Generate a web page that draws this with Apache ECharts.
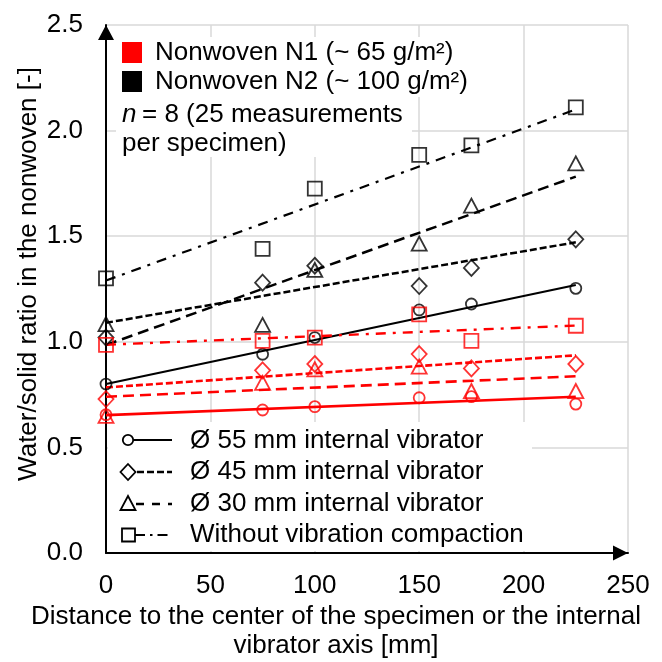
<!DOCTYPE html>
<html>
<head>
<meta charset="utf-8">
<script src="https://cdn.jsdelivr.net/npm/echarts@6/dist/echarts.min.js"></script>
<style>
html,body{margin:0;padding:0;background:#fff;}
#chart{width:662px;height:662px;}
</style>
</head>
<body>
<div id="chart"></div>
<script>
// ---- data ----
const distance = [0, 75, 100, 150, 175, 225];
const n1_55 = [0.655, 0.677, 0.693, 0.735, 0.740, 0.705];
const n1_45 = [0.729, 0.865, 0.895, 0.942, 0.874, 0.895];
const n1_30 = [0.649, 0.805, 0.870, 0.882, 0.767, 0.767];
const n1_wo = [0.985, 1.004, 1.020, 1.130, 1.004, 1.076];
const n2_55 = [0.800, 0.941, 1.020, 1.151, 1.179, 1.253];
const n2_45 = [1.020, 1.280, 1.360, 1.264, 1.350, 1.485];
const n2_30 = [1.084, 1.080, 1.340, 1.465, 1.645, 1.845];
const n2_wo = [1.300, 1.440, 1.725, 1.885, 1.930, 2.110];

// linear trend lines (values at start and end)
const trendX = [0, 225];
const t_n1_55 = [0.653, 0.740];
const t_n1_45 = [0.784, 0.936];
const t_n1_30 = [0.740, 0.837];
const t_n1_wo = [0.986, 1.077];
const t_n2_55 = [0.800, 1.269];
const t_n2_45 = [1.090, 1.471];
const t_n2_30 = [0.985, 1.782];
const t_n2_wo = [1.290, 2.100];

const xTicks = [0, 50, 100, 150, 200, 250];
const yTicks = [0.0, 0.5, 1.0, 1.5, 2.0, 2.5];

const legendTop = ['Nonwoven N1 (~ 65 g/m²)', 'Nonwoven N2 (~ 100 g/m²)'];
const noteLines = ['= 8 (25 measurements', 'per specimen)'];
const legendSeries = ['Ø 55 mm internal vibrator', 'Ø 45 mm internal vibrator', 'Ø 30 mm internal vibrator', 'Without vibration compaction'];
const xTitle = ['Distance to the center of the specimen or the internal', 'vibrator axis [mm]'];
const yTitle = 'Water/solid ratio in the nonwoven [-]';

const RED = '#ff0000', BLACK = '#000000';
const FONT = '"Liberation Sans", Arial, sans-serif';
const FS = 26;

const dashShort = [7, 3];
const dashLong = [11, 6];
const dashDot = [10, 7, 3, 7];

function pts(arr) { return distance.map((x, i) => [x, arr[i]]); }
function tpts(arr) { return trendX.map((x, i) => [x, arr[i]]); }

function scatter(arr, color, symbol, size) {
  return {
    type: 'scatter', data: pts(arr), symbol: symbol, symbolSize: size, z: 4,
    itemStyle: { color: 'rgba(0,0,0,0)', borderColor: color, borderWidth: 1.8 },
    emphasis: { disabled: true }, silent: true
  };
}
function trend(arr, color, dash, w) {
  return {
    type: 'line', data: tpts(arr), symbol: 'none', showSymbol: false, z: 3,
    lineStyle: { color: color, width: w, type: dash },
    emphasis: { disabled: true }, silent: true
  };
}

const series = [
  trend(t_n2_55, BLACK, 'solid', 2.2),
  trend(t_n2_45, BLACK, dashShort, 2.5),
  trend(t_n2_30, BLACK, dashLong, 2.5),
  trend(t_n2_wo, BLACK, dashDot, 2.2),
  trend(t_n1_55, RED, 'solid', 2.6),
  trend(t_n1_45, RED, dashShort, 2.6),
  trend(t_n1_30, RED, dashLong, 2.6),
  trend(t_n1_wo, RED, dashDot, 2.4),
  scatter(n2_55, BLACK, 'circle', 11),
  scatter(n2_45, BLACK, 'diamond', [15, 16]),
  scatter(n2_30, BLACK, 'triangle', [15, 14]),
  scatter(n2_wo, BLACK, 'rect', 14),
  scatter(n1_55, RED, 'circle', 11),
  scatter(n1_45, RED, 'diamond', [15, 16]),
  scatter(n1_30, RED, 'triangle', [15, 14]),
  scatter(n1_wo, RED, 'rect', 14)
];

const txt = (x, y, text, extra) => Object.assign({
  type: 'text', x: x, y: y, z: 10,
  style: Object.assign({ text: text, font: FS + 'px ' + FONT, fill: '#000', align: 'left', verticalAlign: 'middle' }, extra || {})
});

const graphic = [
  // white boxes behind the two text/legend blocks
  { type: 'rect', z: 1, shape: { x: 116, y: 37, width: 360, height: 60 }, style: { fill: '#fff' } },
  { type: 'rect', z: 1, shape: { x: 116, y: 97, width: 296, height: 60 }, style: { fill: '#fff' } },
  { type: 'rect', z: 1, shape: { x: 108, y: 422, width: 424, height: 129 }, style: { fill: '#fff' } },
  // top legend
  { type: 'rect', z: 10, shape: { x: 122, y: 42, width: 20, height: 21 }, style: { fill: RED } },
  { type: 'rect', z: 10, shape: { x: 122, y: 71, width: 20, height: 21 }, style: { fill: BLACK } },
  txt(155, 53, legendTop[0]),
  txt(155, 82, legendTop[1]),
  txt(122, 115, 'n', { font: 'italic ' + FS + 'px ' + FONT }),
  txt(142, 115, noteLines[0]),
  txt(122, 144, noteLines[1]),
  // bottom legend: markers + line samples
  { type: 'line', z: 10, shape: { x1: 133, y1: 440, x2: 172, y2: 440 }, style: { stroke: BLACK, lineWidth: 2.2 } },
  { type: 'circle', z: 11, shape: { cx: 128, cy: 440, r: 5.2 }, style: { fill: '#fff', stroke: BLACK, lineWidth: 1.8 } },
  { type: 'line', z: 10, shape: { x1: 137, y1: 472, x2: 172, y2: 472 }, style: { stroke: BLACK, lineWidth: 2.5, lineDash: dashShort } },
  { type: 'polygon', z: 11, shape: { points: [[128, 464], [135.5, 472], [128, 480], [120.5, 472]] }, style: { fill: '#fff', stroke: BLACK, lineWidth: 1.8 } },
  { type: 'line', z: 10, shape: { x1: 136, y1: 504, x2: 172, y2: 504 }, style: { stroke: BLACK, lineWidth: 2.5, lineDash: [8, 8] } },
  { type: 'polygon', z: 11, shape: { points: [[128, 496], [135.5, 510], [120.5, 510]] }, style: { fill: '#fff', stroke: BLACK, lineWidth: 1.8 } },
  { type: 'line', z: 10, shape: { x1: 135, y1: 535, x2: 172, y2: 535 }, style: { stroke: BLACK, lineWidth: 2.2, lineDash: [10, 5, 2.5, 5] } },
  { type: 'rect', z: 11, shape: { x: 122, y: 528.5, width: 13, height: 13 }, style: { fill: '#fff', stroke: BLACK, lineWidth: 1.8 } },
  txt(190, 441, legendSeries[0]),
  txt(190, 472, legendSeries[1]),
  txt(190, 504, legendSeries[2]),
  txt(190, 535, legendSeries[3]),
  // axis titles
  txt(336, 617, xTitle[0], { align: 'center' }),
  txt(336, 646, xTitle[1], { align: 'center' }),
  { type: 'text', z: 10, x: 29, y: 274, rotation: Math.PI / 2,
    style: { text: yTitle, font: FS + 'px ' + FONT, fill: '#000', align: 'center', verticalAlign: 'middle' } }
];

const chart = echarts.init(document.getElementById('chart'), null, { renderer: 'canvas' });
chart.setOption({
  animation: false,
  backgroundColor: '#fff',
  grid: { left: 106, right: 34, top: 25, bottom: 109, containLabel: false },
  xAxis: {
    type: 'value', min: xTicks[0], max: xTicks[xTicks.length - 1], interval: xTicks[1] - xTicks[0],
    axisLine: { show: true, onZero: false, lineStyle: { color: BLACK, width: 2 }, symbol: ['none', 'triangle'], symbolSize: [15, 15], symbolOffset: [0, -7.5] },
    axisTick: { show: false },
    axisLabel: { margin: 20, fontSize: FS, fontFamily: FONT, color: '#000' },
    splitLine: { show: true, lineStyle: { color: '#d9d9d9', width: 1.5 } }
  },
  yAxis: {
    type: 'value', min: yTicks[0], max: yTicks[yTicks.length - 1], interval: yTicks[1] - yTicks[0],
    axisLine: { show: true, onZero: false, lineStyle: { color: BLACK, width: 2 }, symbol: ['none', 'triangle'], symbolSize: [16, 15], symbolOffset: [0, -7.5] },
    axisTick: { show: false },
    axisLabel: { margin: 23, fontSize: FS, fontFamily: FONT, color: '#000', formatter: v => v.toFixed(1) },
    splitLine: { show: true, lineStyle: { color: '#d9d9d9', width: 1.5 } }
  },
  series: series,
  graphic: graphic
});
</script>
</body>
</html>
